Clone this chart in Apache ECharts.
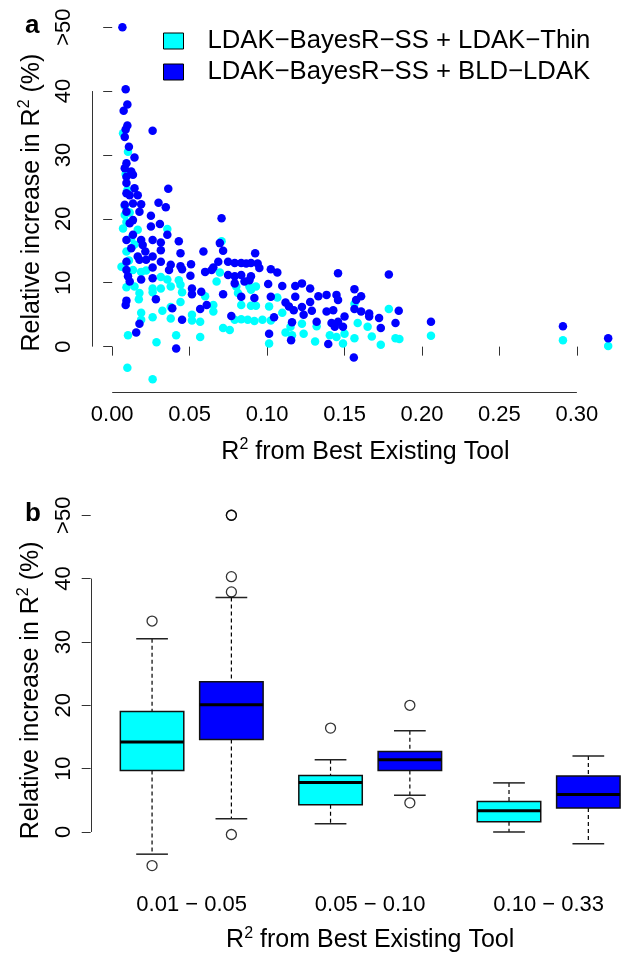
<!DOCTYPE html>
<html><head><meta charset="utf-8">
<script src="https://cdn.jsdelivr.net/npm/echarts@6/dist/echarts.min.js"></script>
<style>html,body{margin:0;padding:0;background:#fff}#c{width:628px;height:954px}</style>
</head><body><div id="c"></div>
<script>
// ---------- data ----------
const seriesNames = ['LDAK\u2212BayesR\u2212SS + LDAK\u2212Thin', 'LDAK\u2212BayesR\u2212SS + BLD\u2212LDAK'];
const seriesColors = ['#00FFFF', '#0000FF'];

const thinPoints = [
[0.0070,33.4],[0.0102,30.5],[0.0087,27.0],[0.0098,24.5],[0.0081,22.0],[0.0113,21.0],[0.0081,20.6],[0.0092,19.5],
[0.0070,18.5],[0.0165,18.3],[0.0356,18.4],[0.0123,17.0],[0.0144,16.0],[0.0706,16.5],[0.0092,14.9],[0.0108,13.5],
[0.0060,12.5],[0.0134,12.0],[0.0187,11.7],[0.0219,11.9],[0.0695,11.6],[0.0314,10.9],[0.0356,10.5],[0.0430,10.4],
[0.0674,10.2],[0.0092,9.3],[0.0144,9.4],[0.0261,9.1],[0.0314,9.1],[0.0378,9.4],[0.0441,9.7],[0.0801,9.4],[0.0886,9.4],
[0.0928,9.4],[0.0176,8.4],[0.0261,8.5],[0.0451,8.5],[0.0600,7.9],[0.0812,8.4],[0.0896,8.9],[0.1066,7.7],[0.0172,7.4],
[0.0441,7.0],[0.0653,6.5],[0.0833,6.5],[0.0928,6.4],[0.0896,6.4],[0.1013,6.3],[0.0653,5.5],[0.0187,5.3],[0.0324,5.6],
[0.0378,6.2],[0.1098,5.3],[0.1564,6.7],[0.1786,5.9],[0.0187,4.2],[0.0261,4.6],[0.0378,4.4],[0.0515,5.0],[0.0515,4.1],
[0.0568,3.9],[0.0791,4.2],[0.0833,4.3],[0.0875,4.2],[0.0918,4.0],[0.0970,4.2],[0.1024,4.1],[0.1151,3.1],[0.1225,3.6],
[0.1320,3.2],[0.1585,3.7],[0.1649,3.1],[0.2058,1.7],[0.1854,1.2],[0.0716,2.9],[0.0759,2.6],[0.0102,1.8],[0.0413,1.8],
[0.0568,1.5],[0.0286,0.7],[0.1119,2.2],[0.1161,1.8],[0.1236,2.0],[0.1405,1.8],[0.1448,1.5],[0.1500,2.0],[0.1564,1.3],
[0.1676,1.6],[0.1829,1.3],[0.1013,0.5],[0.1310,0.8],[0.1490,0.5],[0.1734,0.3],[0.2910,1.0],[0.3202,0.1],
[0.0098,-3.3],[0.0261,-5.1]
];

const bldPoints = [
[0.0066,50],[0.0087,40.3],[0.0098,37.9],[0.0074,36.9],[0.0098,34.6],[0.0087,34.0],[0.0261,33.8],[0.0081,32.8],
[0.0108,31.3],[0.0144,29.6],[0.0092,28.7],[0.0081,27.9],[0.0123,27.4],[0.0134,26.9],[0.0092,26.6],[0.0092,25.6],
[0.0362,24.7],[0.0144,24.8],[0.0165,23.7],[0.0092,24.0],[0.0113,23.7],[0.0081,22.2],[0.0134,22.4],[0.0187,22.3],
[0.0299,22.5],[0.0346,21.8],[0.0092,21.1],[0.0176,21.1],[0.0250,20.5],[0.0134,19.8],[0.0113,19.3],[0.0308,19.2],
[0.0250,18.8],[0.0356,17.5],[0.0134,17.5],[0.0092,16.7],[0.0187,16.7],[0.0261,16.7],[0.0430,16.5],[0.0706,20.1],
[0.0695,16.2],[0.0314,16.3],[0.0123,15.4],[0.0197,15.9],[0.0214,14.9],[0.0314,15.1],[0.0441,14.6],[0.0589,14.9],
[0.0716,15.0],[0.0165,14.1],[0.0261,14.1],[0.0176,13.6],[0.0219,13.6],[0.0092,13.3],[0.0314,13.3],[0.0685,13.3],
[0.0923,14.6],[0.0261,12.4],[0.0378,12.8],[0.0441,12.6],[0.0509,12.9],[0.0653,12.4],[0.0748,13.3],[0.0791,13.1],
[0.0833,13.1],[0.0865,13.0],[0.0896,13.1],[0.0939,13.0],[0.0092,12.0],[0.0102,11.0],[0.0367,12.0],[0.0451,12.1],
[0.0600,11.7],[0.0642,12.0],[0.0261,10.7],[0.0187,10.5],[0.0505,11.1],[0.0748,11.2],[0.0791,11.0],[0.0833,11.2],
[0.0896,11.0],[0.0113,10.2],[0.0791,9.9],[0.0854,10.2],[0.0886,10.4],[0.0515,9.1],[0.0575,8.6],[0.0515,8.2],
[0.0716,8.2],[0.0833,7.8],[0.0918,7.6],[0.0092,7.2],[0.0282,7.4],[0.0087,6.5],[0.0610,6.5],[0.0568,5.9],[0.0388,6.0],
[0.0769,4.8],[0.0451,4.2],[0.0176,3.6],[0.0155,2.2],[0.0413,-0.3],
[0.1024,12.1],[0.1066,11.6],[0.0950,12.3],[0.1458,11.5],[0.1786,11.3],[0.1007,9.8],[0.1098,9.5],[0.1182,9.5],
[0.1225,9.9],[0.1278,9.1],[0.1564,9.0],[0.1024,7.8],[0.1182,7.8],[0.1331,7.9],[0.1384,8.1],[0.1448,8.1],[0.1458,7.3],
[0.1607,7.9],[0.1575,7.3],[0.1119,6.9],[0.1141,6.3],[0.1278,7.0],[0.1225,6.2],[0.1289,5.6],[0.1172,5.7],[0.1384,5.5],
[0.1427,5.7],[0.1564,5.9],[0.1607,5.5],[0.1659,5.2],[0.1850,5.6],[0.1045,4.6],[0.1236,5.0],[0.1320,3.9],[0.1500,4.7],
[0.1659,4.7],[0.1723,4.5],[0.1161,3.8],[0.1416,3.7],[0.1437,3.1],[0.1458,3.9],[0.1490,3.1],[0.1829,3.7],[0.1734,2.9],
[0.2058,3.9],[0.1013,2.0],[0.1155,1.0],[0.1395,0.4],[0.1560,-1.7],[0.2910,3.2],[0.3202,1.3]
];

const xTicksA = [0, 0.05, 0.10, 0.15, 0.20, 0.25, 0.30];
const yTickValues = [0, 10, 20, 30, 40, 50];
const yTickLabels = ['0', '10', '20', '30', '40', '>50'];
const yAxisLineRange = [0, 40];

const groupLabels = ['0.01 \u2212 0.05', '0.05 \u2212 0.10', '0.10 \u2212 0.33'];
const groupCenters = [1.5, 3.75, 6.0];
const boxPositions = [1, 2, 3.25, 4.25, 5.5, 6.5];
// [lower whisker, Q1, median, Q3, upper whisker]
const boxStats = [
  [-3.5, 9.7, 14.2, 19.0, 30.5],
  [2.1, 14.6, 20.1, 23.7, 37.0],
  [1.3, 4.3, 7.8, 8.9, 11.4],
  [5.8, 9.7, 11.4, 12.7, 16.0],
  [0.0, 1.6, 3.35, 4.8, 7.75],
  [-1.85, 3.8, 5.9, 8.85, 12.0]
];
const boxColors = ['#00FFFF', '#0000FF', '#00FFFF', '#0000FF', '#00FFFF', '#0000FF'];
// [box index, value]
const outliers = [[0,33.3],[0,-5.3],[1,37.9],[1,40.3],[1,50.0],[1,50.0],[1,-0.4],[2,16.4],[3,20.0],[3,4.6]];

// ---------- layout / style ----------
const FONT = 'Liberation Sans, Arial, Helvetica, sans-serif';
const AX_A = {xMin: -0.006, xMax: 0.333, yMin: -7.1, yMax: 52.2, yOffset: 11};
const AX_B = {xMin: 0.5, xMax: 7.0, yMin: -7.5, yMax: 52.2, yOffset: 21.7};
const boxHalf = 0.4, capHalf = 0.2;
const axisColor = '#333';

const titleName = '{a|R}{s|2}{a| from Best Existing Tool}';
const yName = '{a|Relative increase in R}{s|2}{a| (%)}';
const nameRich = {
  a: {fontSize: 25, lineHeight: 30, fontFamily: FONT, color: '#000'},
  s: {fontSize: 16, lineHeight: 14, fontFamily: FONT, color: '#000', verticalAlign: 'top'}
};

function yAxisCfg(gridIndex, ax, labelMargin) {
  return {
    gridIndex, type: 'value', min: ax.yMin, max: ax.yMax, offset: ax.yOffset,
    axisLine: {show: false}, splitLine: {show: false},
    axisTick: {show: true, customValues: yTickValues, length: 9, lineStyle: {color: axisColor, width: 1}},
    axisLabel: {show: true, customValues: yTickValues, rotate: 90, margin: labelMargin,
      fontSize: 22, lineHeight: 22, fontFamily: FONT, color: '#000',
      formatter: v => yTickLabels[yTickValues.indexOf(v)] ?? ''},
    name: yName, nameLocation: 'middle', nameRotate: 90, nameGap: 45,
    nameTextStyle: {rich: nameRich}
  };
}

function axisLinesA(params, api) {
  const p0 = api.coord([xTicksA[0], AX_A.yMin]);
  const p1 = api.coord([xTicksA[xTicksA.length - 1], AX_A.yMin]);
  const q0 = api.coord([AX_A.xMin, yAxisLineRange[0]]);
  const q1 = api.coord([AX_A.xMin, yAxisLineRange[1]]);
  const yx = Math.round(q0[0] - AX_A.yOffset) + 0.5;
  const xy = Math.round(p0[1]) + 0.5;
  return {type: 'group', children: [
    {type: 'line', shape: {x1: p0[0], y1: xy, x2: p1[0], y2: xy}, style: {stroke: axisColor, lineWidth: 1}},
    {type: 'line', shape: {x1: yx, y1: q0[1], x2: yx, y2: q1[1]}, style: {stroke: axisColor, lineWidth: 1}}
  ]};
}
function axisLinesB(params, api) {
  const q0 = api.coord([AX_B.xMin, yAxisLineRange[0]]);
  const q1 = api.coord([AX_B.xMin, yAxisLineRange[1]]);
  const yx = Math.round(q0[0] - AX_B.yOffset) + 0.5;
  return {type: 'line', shape: {x1: yx, y1: q0[1], x2: yx, y2: q1[1]}, style: {stroke: axisColor, lineWidth: 1}};
}

function renderBox(params, api) {
  const pos = api.value(0), lo = api.value(1), q1 = api.value(2), med = api.value(3), q3 = api.value(4), hi = api.value(5);
  const tl = api.coord([pos - boxHalf, q3]);
  const br = api.coord([pos + boxHalf, q1]);
  const mL = api.coord([pos - boxHalf, med]);
  const mR = api.coord([pos + boxHalf, med]);
  const cx = api.coord([pos, q3])[0];
  const yHi = api.coord([pos, hi])[1], yLo = api.coord([pos, lo])[1];
  const cL = api.coord([pos - capHalf, hi])[0], cR = api.coord([pos + capHalf, hi])[0];
  const color = boxColors[params.dataIndex];
  return {type: 'group', children: [
    {type: 'line', shape: {x1: cx, y1: yHi, x2: cx, y2: tl[1]}, style: {stroke: '#000', lineWidth: 1.2, lineDash: [4, 3]}},
    {type: 'line', shape: {x1: cx, y1: br[1], x2: cx, y2: yLo}, style: {stroke: '#000', lineWidth: 1.2, lineDash: [4, 3]}},
    {type: 'line', shape: {x1: cL, y1: yHi, x2: cR, y2: yHi}, style: {stroke: '#222', lineWidth: 1.5}},
    {type: 'line', shape: {x1: cL, y1: yLo, x2: cR, y2: yLo}, style: {stroke: '#222', lineWidth: 1.5}},
    {type: 'rect', shape: {x: tl[0], y: tl[1], width: br[0] - tl[0], height: br[1] - tl[1]},
      style: {fill: color, stroke: '#111', lineWidth: 1.5}},
    {type: 'line', shape: {x1: mL[0], y1: mL[1], x2: mR[0], y2: mR[1]}, style: {stroke: '#000', lineWidth: 3}}
  ]};
}

const chart = echarts.init(document.getElementById('c'), null, {renderer: 'canvas'});
chart.setOption({
  animation: false,
  backgroundColor: '#fff',
  textStyle: {fontFamily: FONT},
  title: [
    {text: 'a', left: 20, top: 8, textStyle: {fontSize: 26, fontWeight: 'bold', fontFamily: FONT, color: '#000'}},
    {text: 'b', left: 20, top: 496, textStyle: {fontSize: 26, fontWeight: 'bold', fontFamily: FONT, color: '#000'}}
  ],
  legend: {
    data: seriesNames, orient: 'vertical', left: 163, top: 28, padding: 0,
    icon: 'rect', itemWidth: 20, itemHeight: 16, itemGap: 5,
    itemStyle: {borderColor: '#000', borderWidth: 1},
    textStyle: {fontSize: 25.7, lineHeight: 26, fontFamily: FONT, color: '#000', padding: [0, 0, 0, 19]},
    selectedMode: false
  },
  grid: [
    {left: 102.9, top: 13.1, width: 533.2, height: 378.9},
    {left: 112.4, top: 501.3, width: 517.4, height: 379.7}
  ],
  xAxis: [
    {gridIndex: 0, type: 'value', min: AX_A.xMin, max: AX_A.xMax,
      axisLine: {show: false}, splitLine: {show: false},
      axisTick: {show: true, customValues: xTicksA, length: 9, lineStyle: {color: axisColor, width: 1}},
      axisLabel: {show: true, customValues: xTicksA, margin: 12, fontSize: 22, lineHeight: 22, fontFamily: FONT, color: '#000',
        formatter: v => v.toFixed(2)},
      name: titleName, nameLocation: 'middle', nameGap: 45, nameTextStyle: {rich: nameRich}},
    {gridIndex: 1, type: 'value', min: AX_B.xMin, max: AX_B.xMax,
      axisLine: {show: false}, splitLine: {show: false}, axisTick: {show: false},
      axisLabel: {show: true, customValues: groupCenters, margin: 14, fontSize: 22, lineHeight: 22, fontFamily: FONT, color: '#000',
        formatter: v => groupLabels[groupCenters.indexOf(v)] ?? ''},
      name: titleName, nameLocation: 'middle', nameGap: 46, nameTextStyle: {rich: nameRich}}
  ],
  yAxis: [yAxisCfg(0, AX_A, 17), yAxisCfg(1, AX_B, 16)],
  series: [
    {name: seriesNames[0], type: 'scatter', xAxisIndex: 0, yAxisIndex: 0, data: thinPoints,
      symbol: 'circle', symbolSize: 8.5, itemStyle: {color: seriesColors[0], opacity: 1}, clip: false, silent: true},
    {name: seriesNames[1], type: 'scatter', xAxisIndex: 0, yAxisIndex: 0, data: bldPoints,
      symbol: 'circle', symbolSize: 8.5, itemStyle: {color: seriesColors[1], opacity: 1}, clip: false, silent: true},
    {type: 'custom', xAxisIndex: 0, yAxisIndex: 0, data: [[0, 0]], renderItem: axisLinesA, clip: false, silent: true},
    {type: 'custom', xAxisIndex: 1, yAxisIndex: 1, data: [[0, 0]], renderItem: axisLinesB, clip: false, silent: true},
    {type: 'custom', xAxisIndex: 1, yAxisIndex: 1, renderItem: renderBox, clip: false, silent: true,
      data: boxPositions.map((p, i) => [p].concat(boxStats[i]))},
    {type: 'scatter', xAxisIndex: 1, yAxisIndex: 1, symbol: 'circle', symbolSize: 10, clip: false, silent: true,
      itemStyle: {color: 'rgba(255,255,255,0)', borderColor: '#000', borderWidth: 1.3},
      data: outliers.map(o => [boxPositions[o[0]], o[1]])}
  ]
});
</script></body></html>
